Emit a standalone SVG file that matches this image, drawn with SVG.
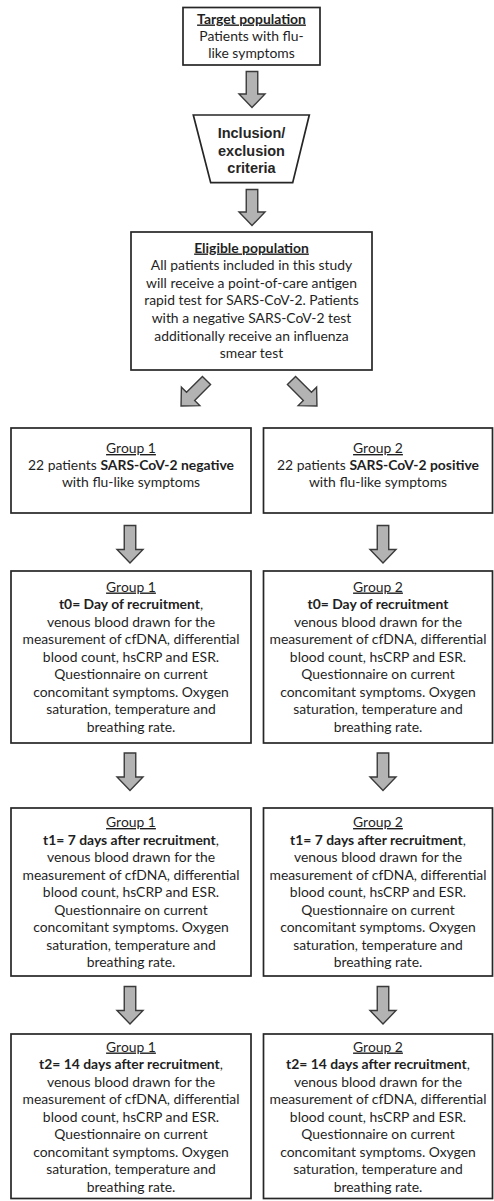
<svg xmlns="http://www.w3.org/2000/svg" width="494" height="1201" viewBox="0 0 494 1201">
<style>
.box{fill:#fff;stroke:#262626;stroke-width:1.7}
.arrow{fill:#b3b3b3;stroke:#3a3a3a;stroke-width:1.4;stroke-linejoin:miter}
.t{font-family:Lato,"Open Sans","Liberation Sans",sans-serif;font-size:13.9px;fill:#1f1f1f;text-anchor:middle}
.b{font-weight:bold}
.u{text-decoration:underline}
.trap{font-family:"Liberation Sans",Arial,sans-serif;font-size:14.5px;font-weight:bold;fill:#262626;text-anchor:middle}
</style>
<defs>
<path id="arrS" d="M-5.75,0 H5.75 V22.5 H13 L0,36 L-13,22.5 H-5.75 Z"/>
<path id="arrL" d="M-5.75,0 H5.75 V24 H13 L0,37.5 L-13,24 H-5.75 Z"/>
</defs>

<g id="connectors">
<use href="#arrS" class="arrow" transform="translate(252,71.5)"/>
<use href="#arrS" class="arrow" transform="translate(252,189.5)"/>
<use href="#arrS" class="arrow" transform="translate(206.5,380.5) rotate(45)"/>
<use href="#arrS" class="arrow" transform="translate(291.5,380.5) rotate(-45)"/>
<use href="#arrL" class="arrow" transform="translate(130,525.5)"/>
<use href="#arrL" class="arrow" transform="translate(383,525.5)"/>
<use href="#arrL" class="arrow" transform="translate(130,753)"/>
<use href="#arrL" class="arrow" transform="translate(383,753)"/>
<use href="#arrL" class="arrow" transform="translate(130,986.5)"/>
<use href="#arrL" class="arrow" transform="translate(383,986.5)"/>
</g>

<g id="target">
<rect class="box" x="183" y="7.5" width="137" height="57.5"/>
<text class="t" x="251.5" y="23.5"><tspan class="b u">Target population</tspan></text>
<text class="t" x="251.5" y="40.8">Patients with flu-</text>
<text class="t" x="251.5" y="58">like symptoms</text>
</g>

<g id="criteria">
<polygon class="box" points="193.3,115 309.3,115 292.7,182.7 210.7,182.7"/>
<text class="trap" x="251.5" y="138.3">Inclusion/</text>
<text class="trap" x="251.5" y="155.8">exclusion</text>
<text class="trap" x="251.5" y="173.3">criteria</text>
</g>

<g id="eligible">
<rect class="box" x="131" y="232" width="241" height="138"/>
<text class="t" x="251.5" y="252.5"><tspan class="b u">Eligible population</tspan></text>
<text class="t" x="251.5" y="270.1">All patients included in this study</text>
<text class="t" x="251.5" y="287.7">will receive a point-of-care antigen</text>
<text class="t" x="251.5" y="305.3">rapid test for SARS-CoV-2. Patients</text>
<text class="t" x="251.5" y="322.9">with a negative SARS-CoV-2 test</text>
<text class="t" x="251.5" y="340.5">additionally receive an influenza</text>
<text class="t" x="251.5" y="358.1">smear test</text>
</g>

<g id="g1">
<rect class="box" x="11" y="428" width="240" height="85"/>
<text class="t" x="131" y="453"><tspan class="u">Group 1</tspan></text>
<text class="t" x="131" y="470">22 patients <tspan class="b">SARS-CoV-2 negative</tspan></text>
<text class="t" x="131" y="487">with flu-like symptoms</text>
</g>

<g id="g2">
<rect class="box" x="263.5" y="428" width="229" height="85"/>
<text class="t" x="378" y="453"><tspan class="u">Group 2</tspan></text>
<text class="t" x="378" y="470">22 patients <tspan class="b">SARS-CoV-2 positive</tspan></text>
<text class="t" x="378" y="487">with flu-like symptoms</text>
</g>

<g id="g1t0">
<rect class="box" x="11" y="571" width="240" height="172"/>
<text class="t" x="131" y="591.5"><tspan class="u">Group 1</tspan></text>
<text class="t" x="131" y="609"><tspan class="b">t0= Day of recruitment</tspan>,</text>
<text class="t" x="131" y="626.5">venous blood drawn for the</text>
<text class="t" x="131" y="644">measurement of cfDNA, differential</text>
<text class="t" x="131" y="661.5">blood count, hsCRP and ESR.</text>
<text class="t" x="131" y="679">Questionnaire on current</text>
<text class="t" x="131" y="696.5">concomitant symptoms. Oxygen</text>
<text class="t" x="131" y="714">saturation, temperature and</text>
<text class="t" x="131" y="731.5">breathing rate.</text>
</g>

<g id="g2t0">
<rect class="box" x="263.5" y="571" width="229" height="172"/>
<text class="t" x="378" y="591.5"><tspan class="u">Group 2</tspan></text>
<text class="t" x="378" y="609"><tspan class="b">t0= Day of recruitment</tspan></text>
<text class="t" x="378" y="626.5">venous blood drawn for the</text>
<text class="t" x="378" y="644">measurement of cfDNA, differential</text>
<text class="t" x="378" y="661.5">blood count, hsCRP and ESR.</text>
<text class="t" x="378" y="679">Questionnaire on current</text>
<text class="t" x="378" y="696.5">concomitant symptoms. Oxygen</text>
<text class="t" x="378" y="714">saturation, temperature and</text>
<text class="t" x="378" y="731.5">breathing rate.</text>
</g>

<g id="g1t1">
<rect class="box" x="11" y="808" width="240" height="168"/>
<text class="t" x="131" y="827"><tspan class="u">Group 1</tspan></text>
<text class="t" x="131" y="844.5"><tspan class="b">t1= 7 days after recruitment</tspan>,</text>
<text class="t" x="131" y="862">venous blood drawn for the</text>
<text class="t" x="131" y="879.5">measurement of cfDNA, differential</text>
<text class="t" x="131" y="897">blood count, hsCRP and ESR.</text>
<text class="t" x="131" y="914.5">Questionnaire on current</text>
<text class="t" x="131" y="932">concomitant symptoms. Oxygen</text>
<text class="t" x="131" y="949.5">saturation, temperature and</text>
<text class="t" x="131" y="967">breathing rate.</text>
</g>

<g id="g2t1">
<rect class="box" x="263.5" y="808" width="229" height="168"/>
<text class="t" x="378" y="827"><tspan class="u">Group 2</tspan></text>
<text class="t" x="378" y="844.5"><tspan class="b">t1= 7 days after recruitment</tspan>,</text>
<text class="t" x="378" y="862">venous blood drawn for the</text>
<text class="t" x="378" y="879.5">measurement of cfDNA, differential</text>
<text class="t" x="378" y="897">blood count, hsCRP and ESR.</text>
<text class="t" x="378" y="914.5">Questionnaire on current</text>
<text class="t" x="378" y="932">concomitant symptoms. Oxygen</text>
<text class="t" x="378" y="949.5">saturation, temperature and</text>
<text class="t" x="378" y="967">breathing rate.</text>
</g>

<g id="g1t2">
<rect class="box" x="11" y="1034" width="240" height="164.5"/>
<text class="t" x="131" y="1051.5"><tspan class="u">Group 1</tspan></text>
<text class="t" x="131" y="1069"><tspan class="b">t2= 14 days after recruitment</tspan>,</text>
<text class="t" x="131" y="1086.5">venous blood drawn for the</text>
<text class="t" x="131" y="1104">measurement of cfDNA, differential</text>
<text class="t" x="131" y="1121.5">blood count, hsCRP and ESR.</text>
<text class="t" x="131" y="1139">Questionnaire on current</text>
<text class="t" x="131" y="1156.5">concomitant symptoms. Oxygen</text>
<text class="t" x="131" y="1174">saturation, temperature and</text>
<text class="t" x="131" y="1191.5">breathing rate.</text>
</g>

<g id="g2t2">
<rect class="box" x="263.5" y="1034" width="229" height="164.5"/>
<text class="t" x="378" y="1051.5"><tspan class="u">Group 2</tspan></text>
<text class="t" x="378" y="1069"><tspan class="b">t2= 14 days after recruitment</tspan>,</text>
<text class="t" x="378" y="1086.5">venous blood drawn for the</text>
<text class="t" x="378" y="1104">measurement of cfDNA, differential</text>
<text class="t" x="378" y="1121.5">blood count, hsCRP and ESR.</text>
<text class="t" x="378" y="1139">Questionnaire on current</text>
<text class="t" x="378" y="1156.5">concomitant symptoms. Oxygen</text>
<text class="t" x="378" y="1174">saturation, temperature and</text>
<text class="t" x="378" y="1191.5">breathing rate.</text>
</g>
</svg>
